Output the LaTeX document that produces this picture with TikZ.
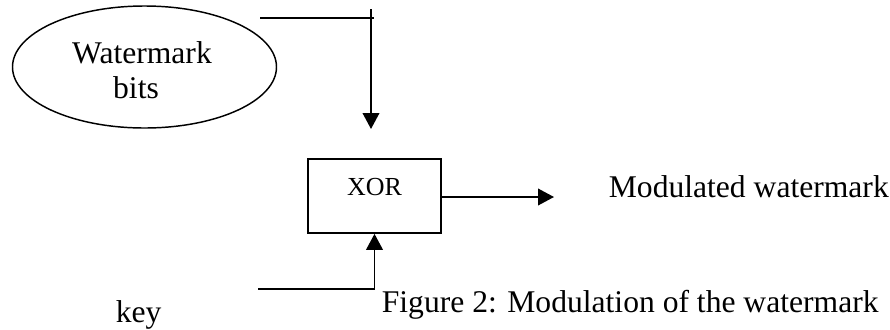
\documentclass[tikz,border=0pt]{standalone}
\usepackage{fontspec}
\setmainfont{Liberation Serif}
\usetikzlibrary{shapes.geometric,arrows.meta}
\begin{document}
\begin{tikzpicture}[x=0.75pt,y=-0.75pt,
  line width=1.3pt,
  big/.style={font=\fontsize{23.7}{26}\selectfont, inner sep=0pt, anchor=base},
  arr/.style={-{Triangle[length=12pt,width=12.5pt]}},
  wmell/.style={draw, ellipse, line width=1.1pt, minimum width=198pt, minimum height=91.5pt, inner sep=0pt},
  xorbox/.style={draw, rectangle, inner sep=0pt, minimum width=99.75pt,
    text height=27pt, text depth=28.5pt, font=\fontsize{19.5}{22}\selectfont, anchor=base}
  ]
\useasboundingbox (0,0) rectangle (890,329);
\node[wmell] (wm) at (144.5,67) {};
\node[big] (wmt) at (142,63) {Watermark};
\node[big] (bits) at (136,98) {bits};
\node[xorbox] (xor) at (374.5,195) {XOR};
\node[big,anchor=base west] (out) at (608,197) {Modulated watermark};
\node[big,anchor=base west] (key) at (115,322) {key};
\node[big,anchor=base west] (cap) at (381,312) {Figure 2: Modulation of the watermark};
% top connector
\coordinate (h1) at (260,18);
\coordinate (h2) at (374,18);
\coordinate (v1) at (371,9);
\coordinate (v2) at (371,129);
\draw (h1) -- (h2);
\draw[arr] (v1) -- (v2);
% output
\coordinate (o2) at (554,197);
\draw[arr] (xor.east |- o2) -- (o2);
% key input
\coordinate (k1) at (258,289);
\draw[arr] (k1) -| (xor.south);
\end{tikzpicture}
\end{document}
